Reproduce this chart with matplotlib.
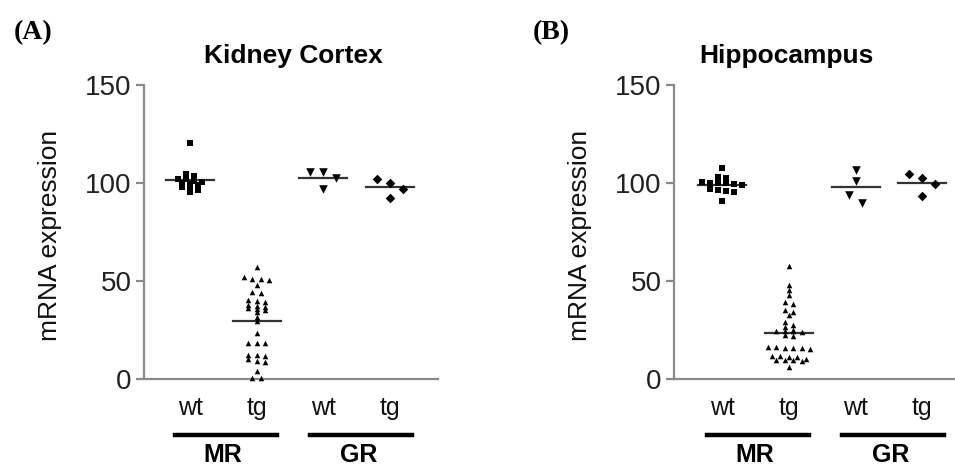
import numpy as np
import matplotlib
matplotlib.use('Agg')
import matplotlib.pyplot as plt
from matplotlib.lines import Line2D

# ---------------- data ----------------
categories = ['wt', 'tg', 'wt', 'tg']
groups = ['MR', 'GR']
titles = ['Kidney Cortex', 'Hippocampus']
panel_labels = ['(A)', '(B)']
yticks = [0, 50, 100, 150]

kidney_mr_wt = [120.5, 104.5, 103.5, 102, 102, 101, 100.5, 100, 99.5, 99, 98, 97.5, 96.5, 95.5]
kidney_mr_tg = [57, 52, 51, 51, 50.5, 48, 44.5, 44, 40.5, 40, 39.5, 38, 37, 36.5, 36, 35.5, 35, 34,
                31.5, 29.5, 23.5, 18.5, 18.5, 18.5, 12.5, 12, 11.5, 10, 9, 8.5, 4, 0.5, 0.5]
kidney_gr_wt = [105.8, 105.8, 102.4, 96.8]
kidney_gr_tg = [101.8, 100.2, 96.9, 92.2]

hippo_mr_wt = [107.5, 103, 102.5, 100.5, 100, 100, 100, 99.5, 99, 97, 96.5, 96, 95.5, 91]
hippo_mr_tg = [57.5, 48, 45.5, 43, 39.5, 38.5, 35, 34, 32.5, 29, 27.5, 26.5, 25, 24.5, 24.5, 24.5,
               24, 22.5, 22, 16.5, 16.5, 16, 16, 16, 15.5, 11.5, 11.5, 11, 11, 10, 9.5, 9.5, 9.5, 9, 6]
hippo_gr_wt = [106.6, 101.2, 93.9, 90.0]
hippo_gr_tg = [104.4, 102.8, 99.5, 93.4]

panels = [
    [kidney_mr_wt, kidney_mr_tg, kidney_gr_wt, kidney_gr_tg],
    [hippo_mr_wt, hippo_mr_tg, hippo_gr_wt, hippo_gr_tg],
]

# ---------------- style ----------------
markers = ['s', '^', 'v', 'D']
msizes = [22, 16, 38, 24]
steps = [8, 8.5, 13, 13]      # pixel step between points of one row
bins = [1.9, 1.9, 5, 5]       # value tolerance for a row
GREY = '#8a8a8a'

W, H = 955, 466
fig = plt.figure(figsize=(W / 100, H / 100), dpi=100)

axes_px = [(144, 438), (674, 955)]
xlims = [(0.31, 4.72), (0.28, 4.49)]
title_x = [0.507, 0.40]
ylabel_x = [-0.279, -0.292]
panel_x = [33, 551]
y_top, y_bot = 85, 379


def row_layout(ax, x0, vals, binsize, step_px):
    """Prism-like scatter layout: group close values into rows, spread each row."""
    vals = np.asarray(vals, float)
    px_per_x = ax.transData.transform((1, 0))[0] - ax.transData.transform((0, 0))[0]
    step = step_px / px_per_x
    rows = []
    for i in np.argsort(-vals, kind='stable'):
        if rows and vals[rows[-1][0]] - vals[i] <= binsize:
            rows[-1].append(i)
        else:
            rows.append([i])
    xs = np.zeros(len(vals))
    for row in rows:
        n = len(row)
        for k, i in enumerate(row):
            xs[i] = x0 + (k - (n - 1) / 2) * step
    return xs


for p in range(2):
    x0, x1 = axes_px[p]
    ax = fig.add_axes([x0 / W, 1 - y_bot / H, (x1 - x0) / W, (y_bot - y_top) / H])
    ax.set_xlim(*xlims[p])
    ax.set_ylim(0, 150)
    for s in ['top', 'right']:
        ax.spines[s].set_visible(False)
    for s in ['left', 'bottom']:
        ax.spines[s].set_color(GREY)
        ax.spines[s].set_linewidth(1.6)
    ax.set_yticks(yticks)
    ax.tick_params(axis='y', colors=GREY, length=6, width=1.6, labelsize=20,
                   labelcolor='#222222', pad=3)
    ax.set_xticks(range(1, 5))
    ax.set_xticklabels(categories)
    ax.tick_params(axis='x', length=0, labelsize=18, labelcolor='#111111', pad=12)
    for lab in ax.get_xticklabels() + ax.get_yticklabels():
        lab.set_fontfamily('Liberation Sans')

    ax.set_ylabel('mRNA expression', fontsize=19, family='Liberation Sans', color='#111111')
    ax.yaxis.set_label_coords(ylabel_x[p], 0.49)

    ax.text(title_x[p], 1.10, titles[p], transform=ax.transAxes, ha='center', va='center',
            fontsize=19, fontweight='bold', family='Liberation Sans')

    for j, vals in enumerate(panels[p]):
        xs = row_layout(ax, j + 1, vals, bins[j], steps[j])
        ax.scatter(xs, vals, marker=markers[j], s=msizes[j], color='black',
                   linewidths=0, clip_on=False, zorder=3)
        m = np.mean(vals)
        ax.plot([j + 1 - 0.36, j + 1 + 0.36], [m, m], color='#333333', lw=1.6, zorder=2)

    # group underlines and labels
    yline = (y_bot - 435) / (y_bot - y_top)
    ylab = (y_bot - 455) / (y_bot - y_top)
    trans = ax.get_xaxis_transform()
    for g, (a, b) in enumerate([(0.77, 2.30), (2.80, 4.33)]):
        ax.add_line(Line2D([a, b], [yline, yline], transform=trans, color='black',
                           lw=3.2, clip_on=False))
        ax.text((a + b) / 2 - 0.04, ylab, groups[g], transform=trans, ha='center', va='center',
                fontsize=18, fontweight='bold', family='Liberation Sans')

    fig.text(panel_x[p] / W, 1 - 33 / H, panel_labels[p], ha='center', va='center',
             fontsize=20, fontweight='bold', family='Liberation Serif')

fig.savefig('out.png', dpi=100)
